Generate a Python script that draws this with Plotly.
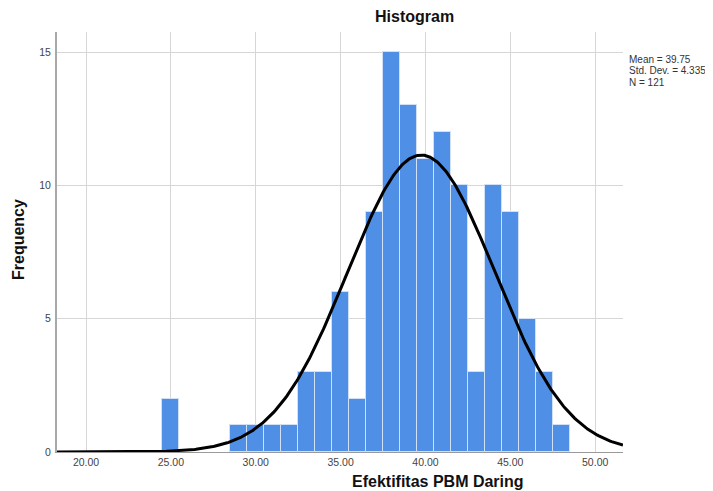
import numpy as np
import plotly.graph_objects as go

# Data
bin_centers = [25, 29, 30, 31, 32, 33, 34, 35, 36, 37, 38, 39, 40, 41, 42, 43, 44, 45, 46, 47, 48]
counts      = [2, 1, 1, 1, 1, 3, 3, 6, 2, 9, 15, 13, 11, 12, 10, 3, 10, 9, 5, 3, 1]
mean = 39.75
std_dev = 4.335
n_total = 121
bin_width = 1.0
x_tick_vals = [20, 25, 30, 35, 40, 45, 50]
x_tick_text = ["20.00", "25.00", "30.00", "35.00", "40.00", "45.00", "50.00"]
y_tick_vals = [0, 5, 10, 15]

x_range = [18.29, 51.64]
y_range = [0, 15.75]

# Normal curve from the stated mean / std. dev. / N
xs = np.linspace(x_range[0], x_range[1], 400)
ys = n_total * bin_width / (std_dev * np.sqrt(2 * np.pi)) * np.exp(-0.5 * ((xs - mean) / std_dev) ** 2)

fig = go.Figure()
fig.add_trace(go.Bar(
    x=bin_centers, y=counts, width=bin_width,
    marker=dict(color="#4f8fe6", line=dict(color="#cfe0f7", width=1)),
    hoverinfo="x+y", showlegend=False,
))
fig.add_trace(go.Scatter(
    x=xs, y=ys, mode="lines",
    line=dict(color="black", width=3), showlegend=False, hoverinfo="skip",
))

# page body has an 8px margin; work in reference pixel coordinates
OFF = 8
W, H = 713 - OFF, 491 - OFF
plot_l, plot_r, plot_t, plot_b = 57, 623, 32, 452   # reference pixels
ml, mt = plot_l - OFF, plot_t - OFF
mr, mb = 713 - plot_r, 491 - plot_b
pw, ph = plot_r - plot_l, plot_b - plot_t

def px(xp):
    return (xp - plot_l) / pw

def py(yp):
    return (plot_b - yp) / ph

def label(text, x, y, size, color="#111", xanchor="center", angle=0):
    return dict(text=text, x=px(x), y=py(y), xref="paper", yref="paper",
                xanchor=xanchor, yanchor="middle", showarrow=False,
                textangle=angle, font=dict(size=size, color=color))

fig.update_layout(
    width=W, height=H,
    margin=dict(l=ml, r=mr, t=mt, b=mb, autoexpand=False),
    paper_bgcolor="white", plot_bgcolor="white",
    bargap=0,
    font=dict(family="Liberation Sans, Arial, sans-serif", color="#333"),
    xaxis=dict(
        range=x_range, tickvals=x_tick_vals, ticktext=x_tick_text,
        showgrid=True, gridcolor="#d6d6d6", gridwidth=1,
        showline=True, linecolor="#9a9a9a", linewidth=1,
        zeroline=False, ticks="", tickfont=dict(size=10.5, color="#444"),
        ticklabelstandoff=0,
    ),
    yaxis=dict(
        range=y_range, tickvals=y_tick_vals,
        showgrid=True, gridcolor="#d6d6d6", gridwidth=1,
        showline=True, linecolor="#a8a8a8", linewidth=2,
        zeroline=False, ticks="", tickfont=dict(size=10.5, color="#444"),
        ticklabelstandoff=2,
    ),
    annotations=[
        label("<b>Histogram</b>", 414, 17, 16),
        label("<b>Efektifitas PBM Daring</b>", 438, 481, 16),
        label("<b>Frequency</b>", 18, 240, 16, angle=-90),
        label("Mean = 39.75", 627, 59, 10, color="#333", xanchor="left"),
        label("Std. Dev. = 4.335", 627, 70.5, 10, color="#333", xanchor="left"),
        label("N = 121", 627, 82, 10, color="#333", xanchor="left"),
    ],
)

fig.write_html("out.html")
